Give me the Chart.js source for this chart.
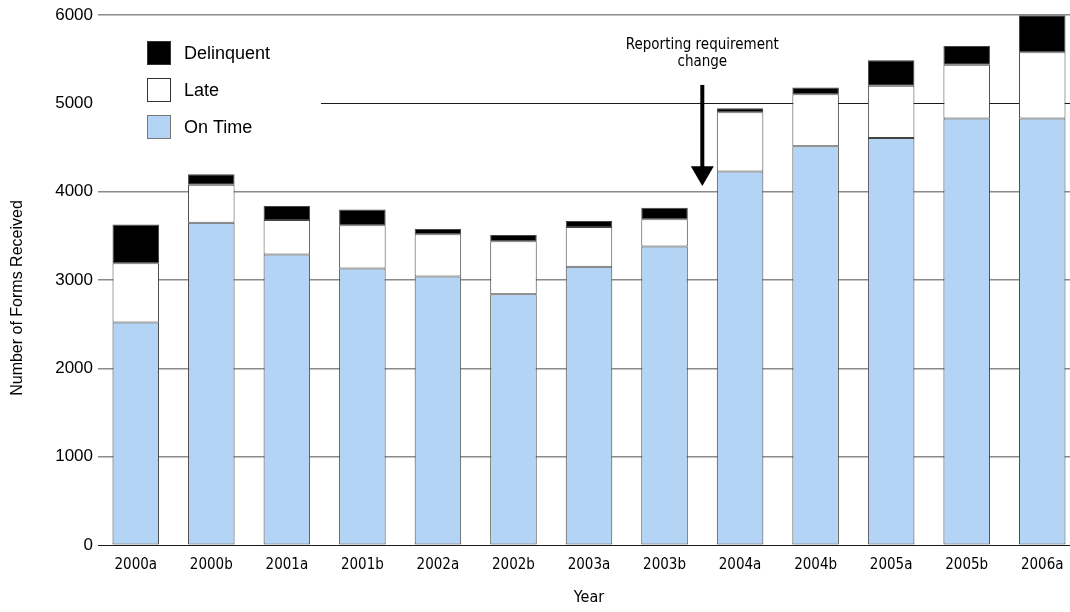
<!DOCTYPE html>
<html>
<head>
<meta charset="utf-8">
<script src="https://cdn.jsdelivr.net/npm/chart.js@4.4.1/dist/chart.umd.min.js"></script>
<style>
  html, body { margin: 0; padding: 0; background: #fff; overflow: hidden; }
  #wrap { width: 1080px; height: 612px; }
</style>
</head>
<body>
<div id="wrap"><canvas id="formsChart" width="1080" height="612"></canvas></div>
<script>
// ---- data ----
const periods = ['2000a', '2000b', '2001a', '2001b', '2002a', '2002b', '2003a', '2003b', '2004a', '2004b', '2005a', '2005b', '2006a'];
const onTime     = [2520, 3650, 3290, 3130, 3040, 2840, 3150, 3380, 4230, 4515, 4610, 4830, 4830];
const late       = [ 670,  430,  390,  490,  480,  600,  450,  310,  670,  590,  590,  610,  750];
const delinquent = [ 440,  120,  160,  180,   60,   70,   70,  130,   45,   75,  290,  210,  420];
const yTicks = [0, 1000, 2000, 3000, 4000, 5000, 6000];

const NARROW = "'Liberation Sans Narrow', 'DejaVu Sans Condensed', 'Liberation Sans', sans-serif";
const REGULAR = "'Liberation Sans', Arial, sans-serif";
const BLUE = '#b3d4f5';

// legend box + arrow/annotation drawn over the plot area
const overlayPlugin = {
  id: 'overlay',
  beforeDatasetsDraw(chart) {
    const { ctx, chartArea } = chart;
    // legend sits on a white panel that hides part of the 5000 line
    ctx.save();
    ctx.fillStyle = '#fff';
    ctx.fillRect(chartArea.left - 2, 30, 225, 120);
    ctx.restore();
  },
  afterDatasetsDraw(chart) {
    const { ctx, scales } = chart;
    const x = scales.x, y = scales.y;
    ctx.save();

    // legend
    const items = chart.data.datasets.slice().reverse();
    items.forEach((ds, i) => {
      const top = 41 + i * 37;
      ctx.fillStyle = ds.backgroundColor;
      ctx.fillRect(147, top, 24, 24);
      ctx.strokeStyle = ds.label === 'On Time' ? '#777' : '#333';
      ctx.lineWidth = 1;
      ctx.strokeRect(147.5, top + 0.5, 23, 23);
      ctx.fillStyle = '#000';
      ctx.font = '18px ' + REGULAR;
      ctx.textAlign = 'left';
      ctx.textBaseline = 'middle';
      ctx.fillText(ds.label, 184, top + 13);
    });

    // annotation between 2003b and 2004a
    const ax = x.getPixelForValue(7.5);
    ctx.font = '15px ' + NARROW;
    ctx.textAlign = 'center';
    ctx.textBaseline = 'middle';
    ctx.fillStyle = '#000';
    ctx.fillText('Reporting requirement', ax, y.getPixelForValue(5660));
    ctx.fillText('change', ax, y.getPixelForValue(5470));

    const shaftTop = y.getPixelForValue(5210);
    const headTop = y.getPixelForValue(4290);
    const tip = y.getPixelForValue(4065);
    ctx.fillRect(ax - 2, shaftTop, 4, headTop - shaftTop + 1);
    ctx.beginPath();
    ctx.moveTo(ax - 11.5, headTop);
    ctx.lineTo(ax + 11.5, headTop);
    ctx.lineTo(ax, tip);
    ctx.closePath();
    ctx.fill();

    // y axis title
    ctx.translate(18, 298);
    ctx.rotate(-Math.PI / 2);
    ctx.font = '16px ' + REGULAR;
    ctx.fillText('Number of Forms Received', 0, 0);
    ctx.restore();
  }
};

const barStyle = { borderColor: '#444', borderWidth: 1, borderSkipped: false, barPercentage: 0.616, categoryPercentage: 1 };

new Chart(document.getElementById('formsChart'), {
  type: 'bar',
  data: {
    labels: periods,
    datasets: [
      Object.assign({ label: 'On Time', data: onTime, backgroundColor: BLUE }, barStyle),
      Object.assign({ label: 'Late', data: late, backgroundColor: '#ffffff' }, barStyle),
      Object.assign({ label: 'Delinquent', data: delinquent, backgroundColor: '#000000' }, barStyle)
    ]
  },
  options: {
    responsive: false,
    animation: false,
    layout: { padding: { top: 15, right: 0, left: 0, bottom: 0 } },
    plugins: {
      legend: { display: false },
      tooltip: { enabled: false }
    },
    scales: {
      x: {
        stacked: true,
        grid: { display: false, drawTicks: false },
        border: { display: false },
        ticks: { font: { family: NARROW, size: 15 }, color: '#000', padding: 11 },
        title: { display: true, text: 'Year', font: { family: NARROW, size: 16 }, color: '#000', padding: { top: 0, bottom: 5 } },
        afterFit: s => { s.height = 67; }
      },
      y: {
        stacked: true,
        min: 0,
        max: 6000,
        afterBuildTicks: s => { s.ticks = yTicks.map(v => ({ value: v })); },
        grid: {
          drawTicks: false,
          color: c => (c.tick.value === 0 || c.tick.value === 5000) ? '#1a1a1a' : '#8a8a8a',
          lineWidth: c => (c.tick.value === 0 || c.tick.value === 5000) ? 1 : 1.6
        },
        border: { display: false },
        ticks: { font: { family: REGULAR, size: 17 }, color: '#000', padding: 5, callback: v => String(v) },
        afterFit: s => { s.width = 98; }
      }
    }
  },
  plugins: [overlayPlugin]
});
</script>
</body>
</html>
